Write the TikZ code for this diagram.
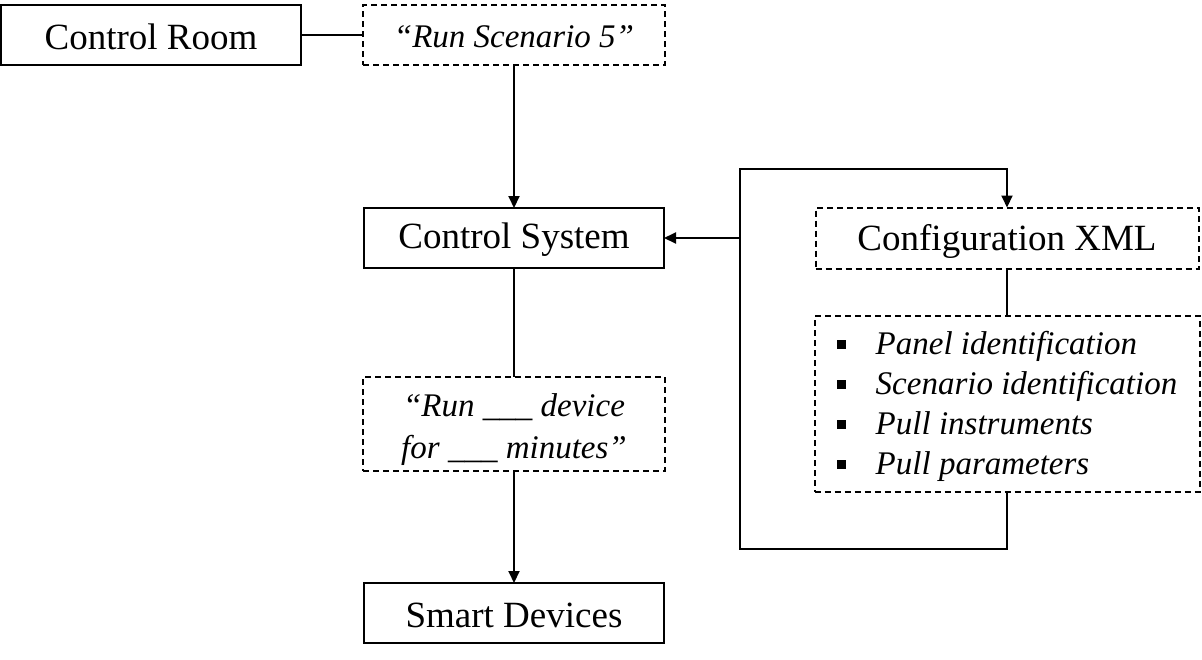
\documentclass[tikz,border=0pt]{standalone}
\usepackage{fontspec}
\setmainfont{Liberation Serif}
\usetikzlibrary{arrows.meta}
\begin{document}
\begin{tikzpicture}[x=1pt,y=-1pt,
  every node/.style={inner sep=0pt, outer sep=0pt},
  sbox/.style={draw, line width=2pt, rectangle, align=center, font=\fontsize{37}{44}\selectfont},
  dbox/.style={draw, line width=2pt, rectangle, dash pattern=on 6pt off 4pt, align=center, font=\fontsize{33}{42}\selectfont\itshape},
  conn/.style={line width=2pt},
  arr/.style={conn, -{Triangle[length=12pt,width=11pt]}}
]
\fill[white] (0,0) rectangle (1202,659);
\useasboundingbox (0,0) rectangle (1202,659);

\node[sbox, minimum width=300pt, minimum height=60pt] (cr) at (151,35) {\raisebox{-2pt}[\height][\depth]{Control Room}};
\node[dbox, minimum width=302pt, minimum height=60pt] (rs) at (514,35) {\raisebox{-2pt}[\height][\depth]{“Run Scenario 5”}};
\node[sbox, minimum width=300pt, minimum height=60pt] (cs) at (514,238) {\raisebox{-2pt}[\height][\depth]{Control System}};
\node[dbox, minimum width=302pt, minimum height=94pt] (rd) at (514,424) {\raisebox{-5pt}[\height][\depth]{\begin{tabular}{@{}c@{}}“Run \_\_\_ device\\for \_\_\_ minutes”\end{tabular}}};
\node[sbox, minimum width=300pt, minimum height=60pt] (sd) at (514,613) {\raisebox{-2pt}[\height][\depth]{Smart Devices}};
\node[dbox, minimum width=383pt, minimum height=61pt, font=\fontsize{37}{44}\selectfont] (cx) at (1007,238) {\raisebox{-3pt}[\height][\depth]{Configuration XML}};
\node[dbox, minimum width=385pt, minimum height=176pt, font=\fontsize{33}{40}\selectfont\itshape] (bl) at (1007,404) {%
  \raisebox{-2pt}[\height][\depth]{\begin{tabular}{@{}l@{\hspace{30pt}}l@{}}
  \rule[5.5pt]{9pt}{9pt} & Panel identification\\
  \rule[5.5pt]{9pt}{9pt} & Scenario identification\\
  \rule[5.5pt]{9pt}{9pt} & Pull instruments\\
  \rule[5.5pt]{9pt}{9pt} & Pull parameters
  \end{tabular}}};

\coordinate (lb) at (740,549);
\coordinate (lt) at (740,169);
\coordinate (lm) at (740,238);

\draw[conn] (cr.east) -- (rs.west);
\draw[arr] (rs.south) -- (cs.north);
\draw[conn] (cs.south) -- (rd.north);
\draw[arr] (rd.south) -- (sd.north);
\draw[conn] (cx.south) -- (bl.north);
\draw[arr] (bl.south) -- (bl.south |- lb) -- (lb) -- (lt) -- (lt -| cx.north) -- (cx.north);
\draw[arr] (lm) -- (cs.east);
\end{tikzpicture}
\end{document}
